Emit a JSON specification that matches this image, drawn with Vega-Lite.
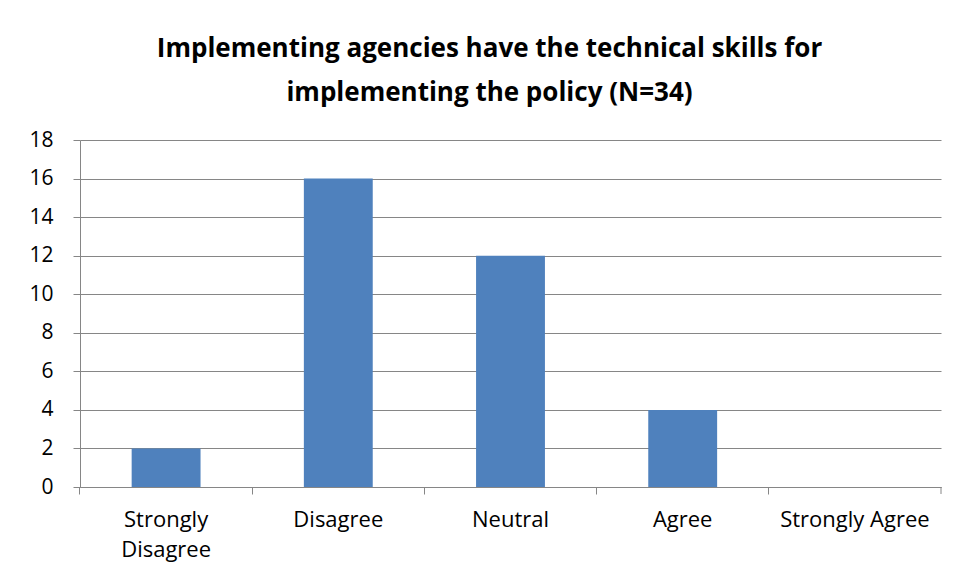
{
  "$schema": "https://vega.github.io/schema/vega-lite/v6.json",
  "width": 861,
  "height": 347,
  "autosize": {"type": "none"},
  "padding": {"left": 80, "top": 140, "right": 17, "bottom": 93},
  "background": "white",
  "config": {
    "view": {"stroke": null},
    "axisY": {
      "grid": true,
      "gridColor": "#868686",
      "domainColor": "#868686",
      "tickColor": "#868686",
      "tickSize": 7,
      "labelFont": "Open Sans",
      "labelFontSize": 21,
      "labelColor": "black",
      "labelPadding": 20,
      "labelOverlap": false
    },
    "axisX": {
      "tickSize": 7,
      "tickColor": "#868686",
      "domainColor": "#868686",
      "labelFont": "Open Sans",
      "labelFontSize": 22,
      "labelColor": "black",
      "labelPadding": 15,
      "labelLineHeight": 30,
      "labelAngle": 0,
      "labelBaseline": "top",
      "labelOverlap": false
    }
  },
  "title": {
    "text": ["Implementing agencies have the technical skills for", "implementing the policy (N=34)"],
    "font": "Open Sans",
    "fontSize": 26,
    "fontWeight": "bold",
    "lineHeight": 44,
    "color": "black",
    "anchor": "middle",
    "dx": -21,
    "offset": 23
  },
  "data": {
    "values": [
      {"category": "Strongly Disagree", "count": 2},
      {"category": "Disagree", "count": 16},
      {"category": "Neutral", "count": 12},
      {"category": "Agree", "count": 4},
      {"category": "Strongly Agree", "count": 0}
    ]
  },
  "layer": [
    {
      "mark": {"type": "bar", "color": "#4F81BD"},
      "encoding": {
        "x": {
          "field": "category",
          "type": "nominal",
          "sort": ["Strongly Disagree", "Disagree", "Neutral", "Agree", "Strongly Agree"],
          "scale": {"paddingInner": 0.6, "paddingOuter": 0.3},
          "axis": {
            "title": null,
            "bandPosition": -0.75,
            "labelExpr": "datum.label == 'Strongly Disagree' ? ['Strongly', 'Disagree'] : datum.label"
          }
        },
        "y": {
          "field": "count",
          "type": "quantitative",
          "scale": {"domain": [0, 18], "nice": false},
          "axis": {
            "title": null,
            "values": [0, 2, 4, 6, 8, 10, 12, 14, 16, 18]
          }
        }
      }
    },
    {
      "data": {"values": [{"category": "Strongly Agree"}]},
      "mark": {"type": "rule", "color": "#868686"},
      "encoding": {
        "x": {
          "field": "category",
          "type": "nominal",
          "sort": ["Strongly Disagree", "Disagree", "Neutral", "Agree", "Strongly Agree"],
          "bandPosition": 1.75,
          "axis": {
            "title": null,
            "bandPosition": -0.75,
            "labelExpr": "datum.label == 'Strongly Disagree' ? ['Strongly', 'Disagree'] : datum.label"
          }
        },
        "y": {
          "datum": 0,
          "type": "quantitative",
          "axis": {
            "title": null,
            "values": [0, 2, 4, 6, 8, 10, 12, 14, 16, 18]
          }
        },
        "y2": {"datum": -0.363}
      }
    }
  ]
}
